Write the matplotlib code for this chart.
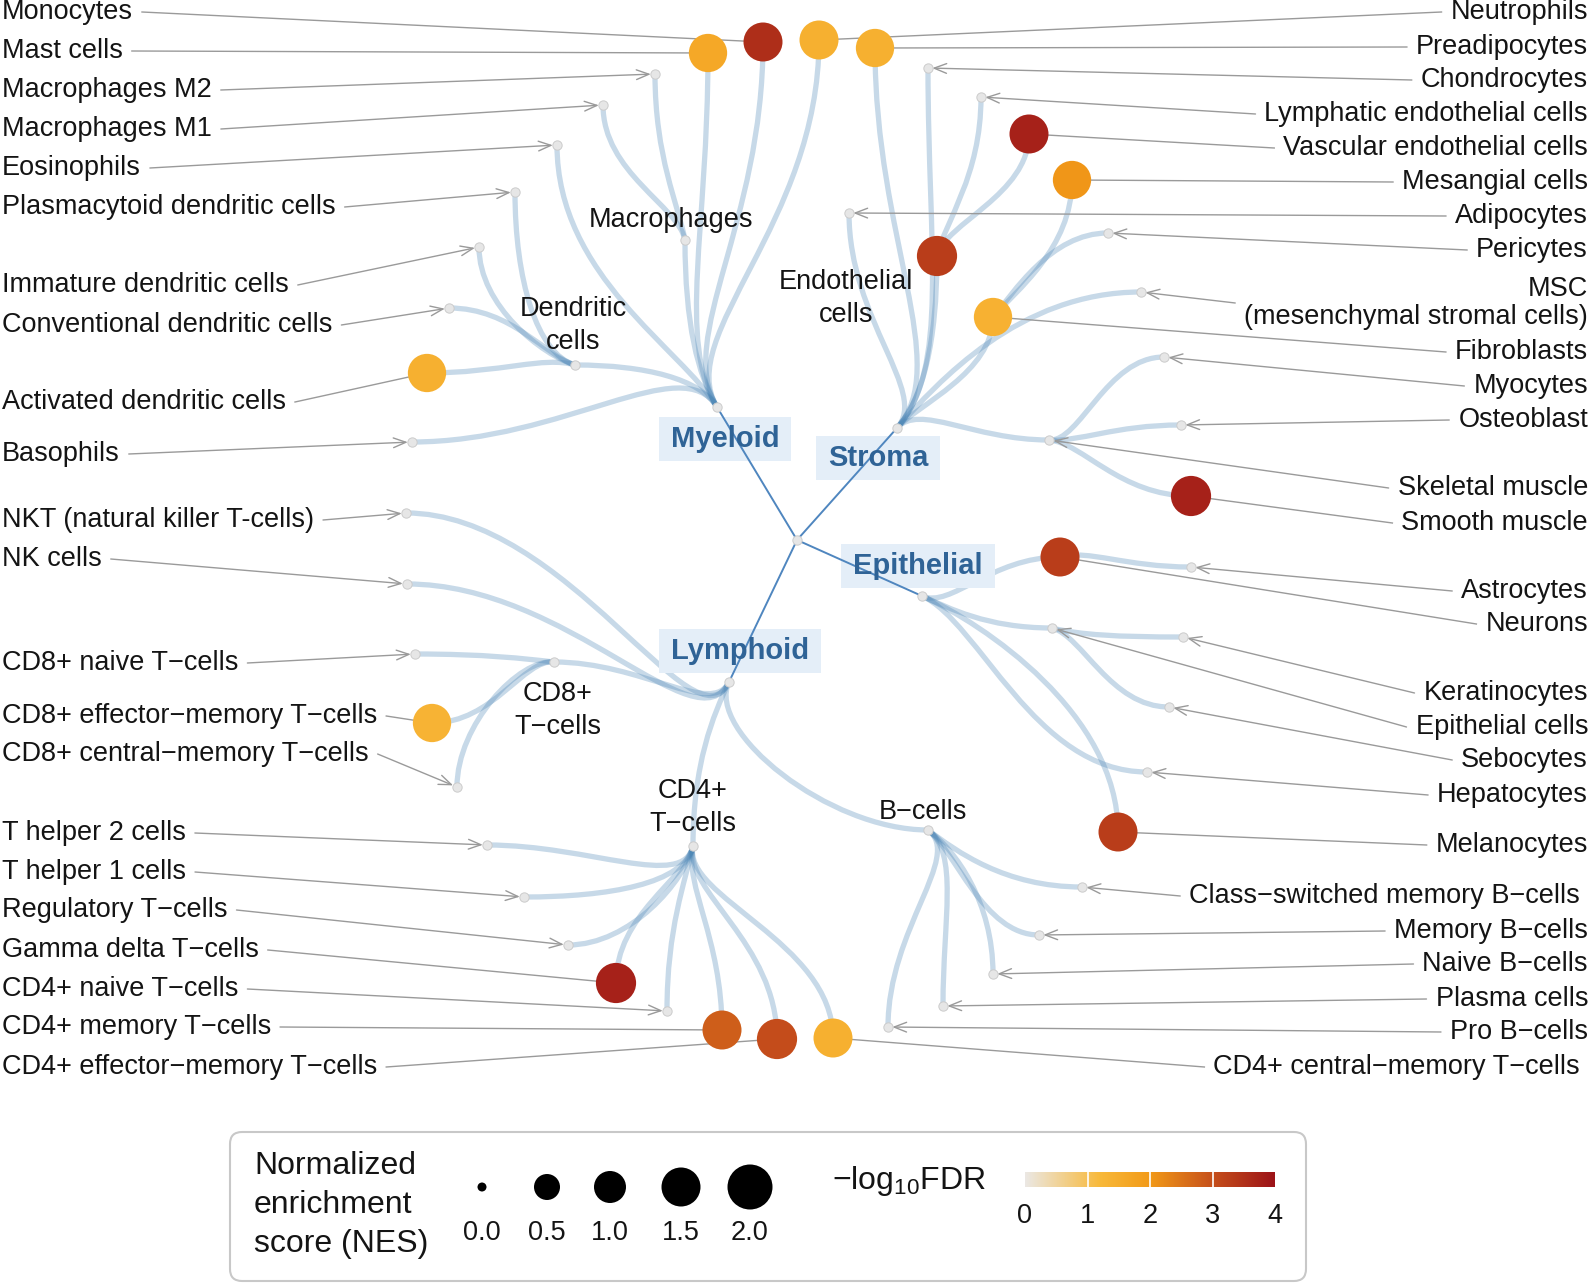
import numpy as np
import matplotlib
matplotlib.use("Agg")
import matplotlib.pyplot as plt
from matplotlib.path import Path
from matplotlib.patches import PathPatch, FancyBboxPatch, Rectangle
from matplotlib.colors import LinearSegmentedColormap, Normalize

plt.rcParams['font.family'] = ['Liberation Sans', 'DejaVu Sans']
plt.rcParams['mathtext.default'] = 'regular'

M = "\u2212"  # minus sign used by the original in "T-cells"

# ---- tree: name, parent, NES, -log10 FDR (nan = not enriched)
names = [
    "root", "Myeloid", "Stroma", "Epithelial", "Lymphoid",
    "Macrophages", "Macrophages M2", "Macrophages M1",
    "Monocytes", "Mast cells", "Neutrophils", "Eosinophils",
    "Dendritic\ncells", "Plasmacytoid dendritic cells", "Immature dendritic cells",
    "Conventional dendritic cells", "Activated dendritic cells", "Basophils",
    "Preadipocytes", "Chondrocytes", "Adipocytes", "Endothelial\ncells",
    "Lymphatic endothelial cells", "Vascular endothelial cells",
    "Fibroblasts", "Mesangial cells", "Pericytes",
    "MSC\n(mesenchymal stromal cells)", "Skeletal muscle", "Myocytes",
    "Osteoblast", "Smooth muscle",
    "Neurons", "Astrocytes", "Epithelial cells", "Keratinocytes",
    "Sebocytes", "Hepatocytes", "Melanocytes",
    "NKT (natural killer T-cells)", "NK cells", "CD8+\nT" + M + "cells",
    "CD8+ naive T" + M + "cells", "CD8+ effector" + M + "memory T" + M + "cells",
    "CD8+ central" + M + "memory T" + M + "cells",
    "CD4+\nT" + M + "cells", "T helper 2 cells", "T helper 1 cells",
    "Regulatory T" + M + "cells", "Gamma delta T" + M + "cells",
    "CD4+ naive T" + M + "cells", "CD4+ memory T" + M + "cells",
    "CD4+ effector" + M + "memory T" + M + "cells",
    "CD4+ central" + M + "memory T" + M + "cells",
    "B" + M + "cells", "Class" + M + "switched memory B" + M + "cells",
    "Memory B" + M + "cells", "Naive B" + M + "cells", "Plasma cells",
    "Pro B" + M + "cells",
]
parents = [
    None, 0, 0, 0, 0,
    1, 5, 5,
    1, 1, 1, 1,
    1, 12, 12,
    12, 12, 1,
    2, 2, 2, 2,
    21, 21,
    2, 24, 24,
    2, 2, 28,
    28, 28,
    3, 32, 3, 34,
    34, 3, 3,
    4, 4, 4,
    41, 41,
    41,
    4, 45, 45,
    45, 45,
    45, 45,
    45,
    45,
    4, 54,
    54, 54, 54,
    54,
]
nan = np.nan
nes = [nan] * len(names)
fdr = [nan] * len(names)
enriched = {
    "Monocytes": (1.5, 3.55), "Mast cells": (1.45, 1.65), "Neutrophils": (1.5, 1.45),
    "Activated dendritic cells": (1.45, 1.45), "Preadipocytes": (1.45, 1.45),
    "Endothelial\ncells": (1.6, 3.3), "Vascular endothelial cells": (1.5, 3.75),
    "Fibroblasts": (1.45, 1.4), "Mesangial cells": (1.45, 2.05),
    "Smooth muscle": (1.6, 3.75), "Neurons": (1.5, 3.3), "Melanocytes": (1.5, 3.3),
    "CD8+ effector" + M + "memory T" + M + "cells": (1.45, 1.35),
    "Gamma delta T" + M + "cells": (1.6, 3.75),
    "CD4+ memory T" + M + "cells": (1.5, 2.8),
    "CD4+ effector" + M + "memory T" + M + "cells": (1.6, 3.05),
    "CD4+ central" + M + "memory T" + M + "cells": (1.5, 1.45),
}
for k, (a, b) in enriched.items():
    i = names.index(k)
    nes[i] = a
    fdr[i] = b

# ---- layout (pixel positions of the original figure)
node_x = [797, 717, 897, 922, 729,
          685, 655, 603,
          763, 708, 819, 557,
          575, 515, 479,
          449, 427, 412,
          875, 928, 849, 937,
          981, 1029,
          993, 1072, 1108,
          1141, 1049, 1164,
          1181, 1191,
          1060, 1191, 1052, 1183,
          1169, 1147, 1118,
          406, 407, 554,
          415, 432,
          457,
          693, 487, 524,
          568, 616,
          667, 722,
          777,
          833,
          928, 1082,
          1039, 993, 943,
          888]
node_y = [540, 407, 428, 596, 682,
          240, 74, 105,
          42, 53, 40, 145,
          365, 192, 247,
          308, 373, 442,
          48, 68, 213, 256,
          97, 134,
          317, 180, 233,
          292, 440, 357,
          425, 496,
          557, 567, 628, 637,
          707, 772, 832,
          513, 584, 662,
          654, 723,
          787,
          846, 845, 897,
          945, 983,
          1011, 1030,
          1039,
          1038,
          830, 887,
          935, 974, 1006,
          1027]
# label kind: G = group box, I = inline, L / R = side label with leader line
label_kind = ["", "G", "G", "G", "G",
              "I", "L", "L",
              "L", "L", "R", "L",
              "I", "L", "L",
              "L", "L", "L",
              "R", "R", "R", "I",
              "R", "R",
              "R", "R", "R",
              "R", "R", "R",
              "R", "R",
              "R", "R", "R", "R",
              "R", "R", "R",
              "L", "L", "I",
              "L", "L",
              "L",
              "I", "L", "L",
              "L", "L",
              "L", "L",
              "L",
              "R",
              "I", "R",
              "R", "R", "R",
              "R"]
label_y = [0, 439, 458, 566, 651,
           220, 90, 129,
           12, 51, 12, 168,
           325, 207, 285,
           325, 402, 454,
           47, 80, 216, 298,
           114, 148,
           352, 182, 250,
           303, 488, 386,
           420, 523,
           624, 591, 727, 693,
           760, 795, 845,
           520, 559, 710,
           663, 716,
           754,
           807, 833, 872,
           910, 950,
           989, 1027,
           1067,
           1067,
           812, 896,
           931, 964, 999,
           1032]
label_x = {"Macrophages": 671, "Dendritic\ncells": 573, "Endothelial\ncells": 846,
           "CD8+\nT" + M + "cells": 558, "CD4+\nT" + M + "cells": 693, "B" + M + "cells": 923,
           "Myeloid": 725, "Stroma": 878, "Epithelial": 918, "Lymphoid": 740,
           "Class" + M + "switched memory B" + M + "cells": 1580,
           "CD4+ central" + M + "memory T" + M + "cells": 1580}

# ---- legend values
nes_legend = [0.0, 0.5, 1.0, 1.5, 2.0]
nes_diam_px = [9, 26, 32, 39, 45]
fdr_ticks = [0, 1, 2, 3, 4]

cmap = LinearSegmentedColormap.from_list(
    "fdr", [(0.0, "#ebe8e4"), (0.3, "#f8b93a"), (0.5, "#f29a18"),
            (0.75, "#c6501b"), (1.0, "#9c1318")])
norm = Normalize(0, 4)
FS = 19.5


def size_pt2(v):
    d = np.interp(v, nes_legend, nes_diam_px) * 0.72
    return d ** 2


fig = plt.figure(figsize=(15.95, 12.88), dpi=100)
ax = fig.add_axes([0, 0, 1, 1])
ax.set_xlim(0, 1595)
ax.set_ylim(1288, 0)
ax.axis('off')

pos = np.array([node_x, node_y], dtype=float).T
edge_col = "#4682b4"
txt_col = "#141414"

# ---- edges
for i, p in enumerate(parents):
    if p is None:
        continue
    P = pos[p]
    C = pos[i]
    if parents[p] is None:
        ax.plot([P[0], C[0]], [P[1], C[1]], color="#4f86bf", lw=1.4, zorder=3)
        continue
    G = pos[parents[p]]
    u = (P - G) / np.linalg.norm(P - G)
    L = np.linalg.norm(C - P)
    p1 = P + u * 0.22 * L
    back = P - C
    if abs(back[0]) > abs(back[1]):
        p2 = C + np.array([0.5 * back[0], 0])
    else:
        p2 = C + np.array([0, 0.5 * back[1]])
    path = Path([P, p1, p2, C], [Path.MOVETO, Path.CURVE4, Path.CURVE4, Path.CURVE4])
    ax.add_patch(PathPatch(path, fc="none", ec=edge_col, alpha=0.3, lw=3.8,
                           capstyle="round", zorder=1))

# ---- nodes
grey = [i for i in range(len(names)) if np.isnan(nes[i])]
col = [i for i in range(len(names)) if not np.isnan(nes[i])]
ax.scatter(pos[grey, 0], pos[grey, 1], s=45, c="#e6e6e6", edgecolors="#cccccc",
           linewidths=0.7, zorder=4)
ax.scatter(pos[col, 0], pos[col, 1], s=[size_pt2(nes[i]) for i in col],
           c=[cmap(norm(fdr[i])) for i in col], edgecolors="none", zorder=5)

# ---- labels
side_texts = []
group_texts = []
for i, name in enumerate(names):
    kind = label_kind[i]
    if kind == "G":
        t = ax.text(label_x[name], label_y[i], name, ha="center", va="center",
                    fontsize=21, fontweight="bold", color="#2f6396", zorder=6)
        group_texts.append(t)
    elif kind == "I":
        lines = name.split("\n")
        y0 = label_y[i] - 16.5 * (len(lines) - 1)
        for k, ln in enumerate(lines):
            ax.text(label_x[name], y0 + 33 * k, ln, ha="center", va="center",
                    fontsize=FS, color=txt_col, zorder=6)
    elif kind in ("L", "R"):
        if kind == "L":
            x = 2
            ha = "left"
        else:
            x = label_x.get(name, 1588)
            ha = "right"
        lines = name.split("\n")
        if len(lines) == 1:
            t = ax.text(x, label_y[i], name, ha=ha, va="center", fontsize=FS,
                        color=txt_col, zorder=6)
        else:
            t = None
            for k, ln in enumerate(lines):
                tt = ax.text(x, label_y[i] - 14 + 28 * k, ln, ha=ha, va="center",
                             fontsize=FS, color=txt_col, zorder=6)
                if t is None or len(ln) > len(t.get_text()):
                    t = tt
        side_texts.append((i, kind, t))

fig.canvas.draw()
rend = fig.canvas.get_renderer()
inv = ax.transData.inverted()


def data_box(t):
    bb = t.get_window_extent(rend)
    (x0, y0), (x1, y1) = inv.transform([[bb.x0, bb.y0], [bb.x1, bb.y1]])
    return x0, x1, min(y0, y1), max(y0, y1)


for t in group_texts:
    x0, x1, y0, y1 = data_box(t)
    cy = (y0 + y1) / 2
    ax.add_patch(Rectangle((x0 - 12, cy - 22), x1 - x0 + 24, 44,
                           fc="#e4eef8", ec="none", zorder=2))

for i, kind, t in side_texts:
    x0, x1, _, _ = data_box(t)
    sx = x1 + 9 if kind == "L" else x0 - 9
    sy = label_y[i]
    nx, ny = pos[i]
    if np.isnan(nes[i]):
        ax.annotate("", xy=(nx, ny), xytext=(sx, sy),
                    arrowprops=dict(arrowstyle="->,head_length=0.9,head_width=0.35",
                                    color="#9a9a9a", lw=1.0, shrinkA=0, shrinkB=3),
                    zorder=2)
    else:
        ax.plot([sx, nx], [sy, ny], color="#9a9a9a", lw=1.0, zorder=2)

# ---- legend
ax.add_patch(FancyBboxPatch((230, 1132), 1076, 149,
                            boxstyle="round,pad=0,rounding_size=12",
                            fc="white", ec="#c8c8c8", lw=1.5, zorder=1))
for k, ln in enumerate(["Normalized", "enrichment", "score (NES)"]):
    ax.text(254, 1166 + 39 * k, ln, ha="left", va="center", fontsize=23,
            color=txt_col)
leg_x = [482, 547, 610, 681, 750]
ax.scatter(leg_x, [1187] * 5, s=[size_pt2(v) for v in nes_legend], c="black",
           edgecolors="none", zorder=5)
for x, v in zip(leg_x, nes_legend):
    ax.text(x, 1233, f"{v:.1f}", ha="center", va="center", fontsize=FS, color=txt_col)
ax.text(832, 1181, r"$\mathregular{-log_{10}FDR}$", ha="left", va="center",
        fontsize=23, color=txt_col)
cb_x0, cb_x1, cb_y0, cb_y1 = 1025, 1275, 1172, 1187
grad = np.linspace(0, 4, 256)[np.newaxis, :]
ax.imshow(grad, cmap=cmap, norm=norm, extent=(cb_x0, cb_x1, cb_y1, cb_y0),
          aspect="auto", zorder=3)
for v in fdr_ticks:
    tx = cb_x0 + (cb_x1 - cb_x0) * v / 4
    if 0 < v < 4:
        ax.plot([tx, tx], [cb_y0, cb_y1], color="white", lw=1.2, zorder=4)
    ax.text(tx, 1216, str(v), ha="center", va="center", fontsize=FS, color=txt_col)
ax.set_xlim(0, 1595)
ax.set_ylim(1288, 0)

fig.savefig("out.png", dpi=100)
